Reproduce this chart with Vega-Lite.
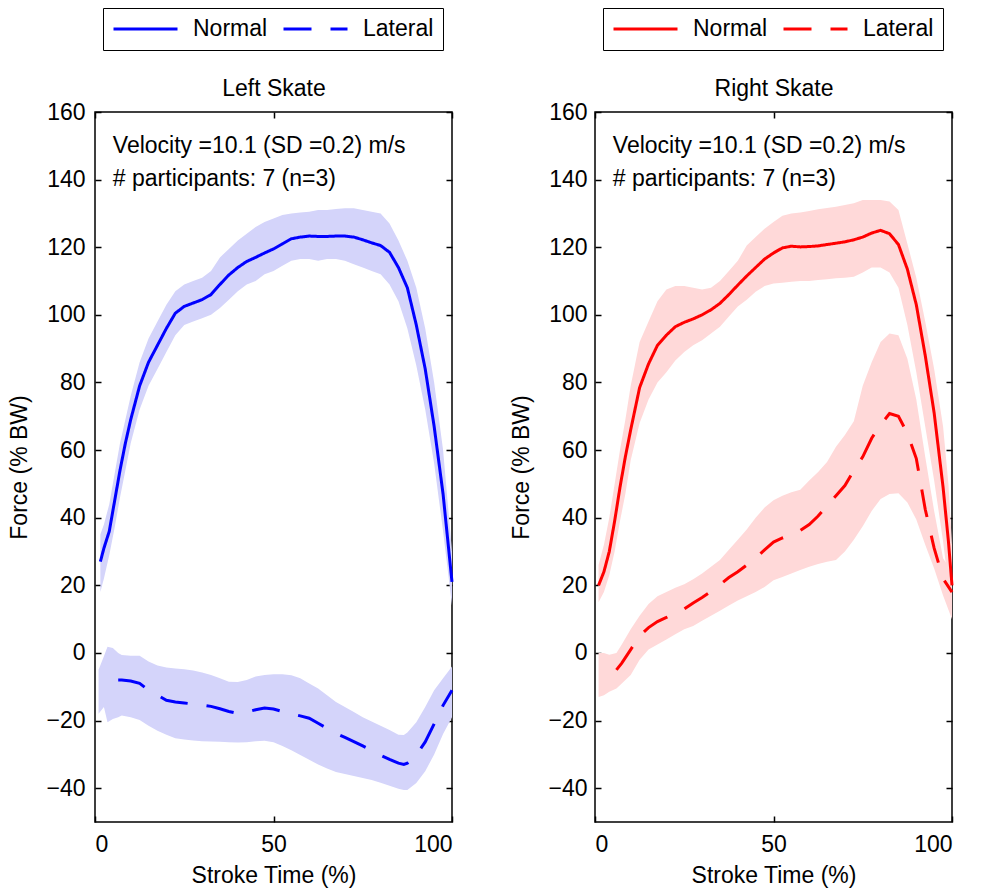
{
  "$schema": "https://vega.github.io/schema/vega-lite/v6.json",
  "background": "white",
  "padding": {"left": 8, "top": 6, "right": 5, "bottom": 5},
  "spacing": 51,
  "config": {
    "font": "Liberation Sans",
    "view": {"stroke": "#000", "strokeWidth": 1.5},
    "axis": {"labelFontSize": 23, "titleFontSize": 23, "labelColor": "#000", "titleColor": "#000", "titleFontWeight": "normal", "grid": false, "domain": false, "tickColor": "#000", "tickSize": -6, "tickWidth": 1.5, "labelPadding": 16, "titlePadding": 14, "labelFont": "Liberation Sans", "titleFont": "Liberation Sans"}
  },
  "datasets": {
    "left": [
      {"x": 1.5, "series": "Normal", "mean": 27, "lo": 18, "hi": 35},
      {"x": 2.5, "series": "Normal", "mean": 31, "lo": 22, "hi": 38},
      {"x": 4, "series": "Normal", "mean": 36, "lo": 29, "hi": 44},
      {"x": 5.5, "series": "Normal", "mean": 45, "lo": 37, "hi": 53},
      {"x": 7, "series": "Normal", "mean": 54, "lo": 46, "hi": 62},
      {"x": 8.5, "series": "Normal", "mean": 62, "lo": 54, "hi": 69},
      {"x": 10, "series": "Normal", "mean": 69, "lo": 62, "hi": 76},
      {"x": 12.5, "series": "Normal", "mean": 79, "lo": 72, "hi": 86},
      {"x": 15, "series": "Normal", "mean": 86, "lo": 79, "hi": 93},
      {"x": 17.5, "series": "Normal", "mean": 91, "lo": 84, "hi": 98},
      {"x": 20, "series": "Normal", "mean": 96, "lo": 89, "hi": 103},
      {"x": 22.5, "series": "Normal", "mean": 100.5, "lo": 94, "hi": 107},
      {"x": 25, "series": "Normal", "mean": 102.5, "lo": 97, "hi": 109},
      {"x": 27.5, "series": "Normal", "mean": 103.5, "lo": 98, "hi": 110},
      {"x": 30, "series": "Normal", "mean": 104.5, "lo": 99, "hi": 111},
      {"x": 32.5, "series": "Normal", "mean": 106, "lo": 100, "hi": 113},
      {"x": 35, "series": "Normal", "mean": 109, "lo": 102, "hi": 117},
      {"x": 37.5, "series": "Normal", "mean": 111.8, "lo": 104.5, "hi": 119.5},
      {"x": 40, "series": "Normal", "mean": 114, "lo": 107, "hi": 122},
      {"x": 42.5, "series": "Normal", "mean": 115.8, "lo": 109, "hi": 124},
      {"x": 45, "series": "Normal", "mean": 117, "lo": 110, "hi": 126},
      {"x": 47.5, "series": "Normal", "mean": 118.3, "lo": 112, "hi": 127.5},
      {"x": 50, "series": "Normal", "mean": 119.5, "lo": 113, "hi": 128.5},
      {"x": 52.5, "series": "Normal", "mean": 121, "lo": 114.5, "hi": 129.5},
      {"x": 55, "series": "Normal", "mean": 122.5, "lo": 116, "hi": 130},
      {"x": 57.5, "series": "Normal", "mean": 123, "lo": 116.5, "hi": 130.3},
      {"x": 60, "series": "Normal", "mean": 123.3, "lo": 116.5, "hi": 130.5},
      {"x": 62.5, "series": "Normal", "mean": 123.2, "lo": 116, "hi": 131},
      {"x": 65, "series": "Normal", "mean": 123.2, "lo": 116.5, "hi": 131},
      {"x": 67.5, "series": "Normal", "mean": 123.3, "lo": 116.5, "hi": 131.3},
      {"x": 70, "series": "Normal", "mean": 123.3, "lo": 116, "hi": 131.5},
      {"x": 72.5, "series": "Normal", "mean": 123, "lo": 115, "hi": 131.5},
      {"x": 75, "series": "Normal", "mean": 122.2, "lo": 114, "hi": 131},
      {"x": 77.5, "series": "Normal", "mean": 121.3, "lo": 113, "hi": 130.5},
      {"x": 80, "series": "Normal", "mean": 120.5, "lo": 112, "hi": 130},
      {"x": 82.5, "series": "Normal", "mean": 118.5, "lo": 109, "hi": 127},
      {"x": 85, "series": "Normal", "mean": 114, "lo": 104, "hi": 122},
      {"x": 87.5, "series": "Normal", "mean": 108, "lo": 96, "hi": 116},
      {"x": 90, "series": "Normal", "mean": 97, "lo": 85, "hi": 108},
      {"x": 92.5, "series": "Normal", "mean": 84, "lo": 72, "hi": 96},
      {"x": 95, "series": "Normal", "mean": 67, "lo": 56, "hi": 80},
      {"x": 97.5, "series": "Normal", "mean": 47, "lo": 36, "hi": 60},
      {"x": 100, "series": "Normal", "mean": 21, "lo": 14, "hi": 30},
      {"x": 1, "series": "Lateral", "mean": null, "lo": -18, "hi": -5},
      {"x": 2.5, "series": "Lateral", "mean": null, "lo": -16, "hi": -1},
      {"x": 3.5, "series": "Lateral", "mean": null, "lo": -20.5, "hi": 1.8},
      {"x": 5, "series": "Lateral", "mean": null, "lo": -19.5, "hi": 1.5},
      {"x": 6.5, "series": "Lateral", "mean": -8, "lo": -19, "hi": 0},
      {"x": 7.5, "series": "Lateral", "mean": -8, "lo": -18.5, "hi": -0.6},
      {"x": 10, "series": "Lateral", "mean": -8.3, "lo": -19, "hi": -0.8},
      {"x": 12.5, "series": "Lateral", "mean": -9, "lo": -19.8, "hi": -0.8},
      {"x": 15, "series": "Lateral", "mean": -11, "lo": -21.5, "hi": -2.5},
      {"x": 17.5, "series": "Lateral", "mean": -12.5, "lo": -23, "hi": -3.7},
      {"x": 20, "series": "Lateral", "mean": -14, "lo": -24.2, "hi": -4.3},
      {"x": 22.5, "series": "Lateral", "mean": -14.5, "lo": -25.2, "hi": -4.6},
      {"x": 25, "series": "Lateral", "mean": -14.8, "lo": -25.6, "hi": -4.8},
      {"x": 27.5, "series": "Lateral", "mean": -15.1, "lo": -25.9, "hi": -5.2},
      {"x": 30, "series": "Lateral", "mean": -15.4, "lo": -26.1, "hi": -5.8},
      {"x": 32.5, "series": "Lateral", "mean": -15.8, "lo": -26.2, "hi": -6.5},
      {"x": 35, "series": "Lateral", "mean": -16.5, "lo": -26.3, "hi": -7.5},
      {"x": 37.5, "series": "Lateral", "mean": -17.3, "lo": -26.4, "hi": -8.5},
      {"x": 40, "series": "Lateral", "mean": -17.9, "lo": -26.5, "hi": -8.6},
      {"x": 42.5, "series": "Lateral", "mean": -17.5, "lo": -26.4, "hi": -8},
      {"x": 45, "series": "Lateral", "mean": -16.8, "lo": -26.1, "hi": -7},
      {"x": 47.5, "series": "Lateral", "mean": -16.3, "lo": -26, "hi": -6.5},
      {"x": 50, "series": "Lateral", "mean": -16.6, "lo": -26.4, "hi": -6.3},
      {"x": 52.5, "series": "Lateral", "mean": -17.3, "lo": -27.5, "hi": -6.3},
      {"x": 55, "series": "Lateral", "mean": -18, "lo": -28.8, "hi": -6.6},
      {"x": 57.5, "series": "Lateral", "mean": -18.6, "lo": -30.2, "hi": -7.5},
      {"x": 60, "series": "Lateral", "mean": -19.3, "lo": -31.6, "hi": -9},
      {"x": 62.5, "series": "Lateral", "mean": -20.8, "lo": -33, "hi": -10.5},
      {"x": 65, "series": "Lateral", "mean": -22.3, "lo": -34.2, "hi": -12.5},
      {"x": 67.5, "series": "Lateral", "mean": -23.8, "lo": -35.2, "hi": -14.5},
      {"x": 70, "series": "Lateral", "mean": -25, "lo": -35.8, "hi": -16},
      {"x": 72.5, "series": "Lateral", "mean": -26.2, "lo": -36.4, "hi": -17.5},
      {"x": 75, "series": "Lateral", "mean": -27.5, "lo": -37, "hi": -19},
      {"x": 77.5, "series": "Lateral", "mean": -28.8, "lo": -37.6, "hi": -20.3},
      {"x": 80, "series": "Lateral", "mean": -30.3, "lo": -38.4, "hi": -21.5},
      {"x": 82.5, "series": "Lateral", "mean": -31.5, "lo": -39.3, "hi": -22.8},
      {"x": 85, "series": "Lateral", "mean": -32.6, "lo": -40.2, "hi": -24.2},
      {"x": 86.5, "series": "Lateral", "mean": -33, "lo": -40.5, "hi": -24.3},
      {"x": 87.5, "series": "Lateral", "mean": -32.6, "lo": -40.5, "hi": -23.5},
      {"x": 90, "series": "Lateral", "mean": -30.2, "lo": -38.5, "hi": -20.5},
      {"x": 92.5, "series": "Lateral", "mean": -26.3, "lo": -35, "hi": -16},
      {"x": 95, "series": "Lateral", "mean": -21, "lo": -30, "hi": -11},
      {"x": 97.5, "series": "Lateral", "mean": -15.5, "lo": -24, "hi": -7.5},
      {"x": 100, "series": "Lateral", "mean": -11, "lo": -19, "hi": -4}
    ],
    "right": [
      {"x": 1, "series": "Normal", "mean": 20, "lo": 15, "hi": 26},
      {"x": 2.5, "series": "Normal", "mean": 24, "lo": 18, "hi": 32},
      {"x": 4, "series": "Normal", "mean": 30, "lo": 23, "hi": 40},
      {"x": 5.5, "series": "Normal", "mean": 39, "lo": 30, "hi": 50},
      {"x": 7, "series": "Normal", "mean": 49, "lo": 39, "hi": 60},
      {"x": 8.5, "series": "Normal", "mean": 58, "lo": 47, "hi": 69},
      {"x": 10, "series": "Normal", "mean": 66, "lo": 57, "hi": 79},
      {"x": 12.5, "series": "Normal", "mean": 78.5, "lo": 68, "hi": 92},
      {"x": 15, "series": "Normal", "mean": 85.5, "lo": 75, "hi": 98},
      {"x": 17.5, "series": "Normal", "mean": 91, "lo": 80, "hi": 104},
      {"x": 20, "series": "Normal", "mean": 94, "lo": 83, "hi": 107.5},
      {"x": 22.5, "series": "Normal", "mean": 96.5, "lo": 86.5, "hi": 108.5},
      {"x": 25, "series": "Normal", "mean": 97.8, "lo": 89, "hi": 108.5},
      {"x": 27.5, "series": "Normal", "mean": 98.8, "lo": 91, "hi": 108},
      {"x": 30, "series": "Normal", "mean": 100, "lo": 92.5, "hi": 107.5},
      {"x": 32.5, "series": "Normal", "mean": 101.5, "lo": 94.5, "hi": 108},
      {"x": 35, "series": "Normal", "mean": 103.4, "lo": 96.5, "hi": 110},
      {"x": 37.5, "series": "Normal", "mean": 106, "lo": 99.5, "hi": 113},
      {"x": 40, "series": "Normal", "mean": 108.8, "lo": 102.5, "hi": 116},
      {"x": 42.5, "series": "Normal", "mean": 111.5, "lo": 104.5, "hi": 120.5},
      {"x": 45, "series": "Normal", "mean": 114, "lo": 106.8, "hi": 123},
      {"x": 47.5, "series": "Normal", "mean": 116.5, "lo": 108.5, "hi": 125.5},
      {"x": 50, "series": "Normal", "mean": 118.3, "lo": 109.3, "hi": 127.5},
      {"x": 52.5, "series": "Normal", "mean": 119.8, "lo": 109.5, "hi": 129.3},
      {"x": 55, "series": "Normal", "mean": 120.3, "lo": 109.8, "hi": 130},
      {"x": 57.5, "series": "Normal", "mean": 120.1, "lo": 110, "hi": 130.3},
      {"x": 60, "series": "Normal", "mean": 120.2, "lo": 110, "hi": 130.7},
      {"x": 62.5, "series": "Normal", "mean": 120.4, "lo": 110.3, "hi": 131.2},
      {"x": 65, "series": "Normal", "mean": 120.8, "lo": 110.5, "hi": 131.6},
      {"x": 67.5, "series": "Normal", "mean": 121.2, "lo": 110.8, "hi": 132},
      {"x": 70, "series": "Normal", "mean": 121.6, "lo": 111, "hi": 132.5},
      {"x": 72.5, "series": "Normal", "mean": 122.2, "lo": 111.3, "hi": 133},
      {"x": 75, "series": "Normal", "mean": 123, "lo": 112.5, "hi": 134},
      {"x": 77.5, "series": "Normal", "mean": 124.2, "lo": 114, "hi": 134},
      {"x": 80, "series": "Normal", "mean": 125, "lo": 114, "hi": 134},
      {"x": 82.5, "series": "Normal", "mean": 124, "lo": 112.5, "hi": 133.5},
      {"x": 85, "series": "Normal", "mean": 120.8, "lo": 108, "hi": 131},
      {"x": 87.5, "series": "Normal", "mean": 113.5, "lo": 97, "hi": 121},
      {"x": 90, "series": "Normal", "mean": 103, "lo": 83, "hi": 111},
      {"x": 92.5, "series": "Normal", "mean": 88, "lo": 67, "hi": 98},
      {"x": 95, "series": "Normal", "mean": 71, "lo": 51, "hi": 84},
      {"x": 97.5, "series": "Normal", "mean": 49, "lo": 33, "hi": 67},
      {"x": 99, "series": "Normal", "mean": 33, "lo": 20, "hi": 50},
      {"x": 100, "series": "Normal", "mean": 20, "lo": 11, "hi": 32},
      {"x": 1, "series": "Lateral", "mean": null, "lo": -13, "hi": 0},
      {"x": 2.5, "series": "Lateral", "mean": null, "lo": -12.5, "hi": 0},
      {"x": 4, "series": "Lateral", "mean": null, "lo": -11.5, "hi": -0.5},
      {"x": 6, "series": "Lateral", "mean": -5, "lo": -10.5, "hi": 0},
      {"x": 7.5, "series": "Lateral", "mean": -3, "lo": -9, "hi": 2.5},
      {"x": 10, "series": "Lateral", "mean": 1, "lo": -6.5, "hi": 7},
      {"x": 12.5, "series": "Lateral", "mean": 5, "lo": -2, "hi": 11},
      {"x": 15, "series": "Lateral", "mean": 7.5, "lo": 1, "hi": 14.5},
      {"x": 17.5, "series": "Lateral", "mean": 9.3, "lo": 2.5, "hi": 16.8},
      {"x": 20, "series": "Lateral", "mean": 10.5, "lo": 4, "hi": 18},
      {"x": 22.5, "series": "Lateral", "mean": 11.8, "lo": 5.5, "hi": 19.3},
      {"x": 25, "series": "Lateral", "mean": 13, "lo": 7, "hi": 20.3},
      {"x": 27.5, "series": "Lateral", "mean": 14.8, "lo": 8, "hi": 21.8},
      {"x": 30, "series": "Lateral", "mean": 16.4, "lo": 9.5, "hi": 23.5},
      {"x": 32.5, "series": "Lateral", "mean": 18.2, "lo": 11, "hi": 25.5},
      {"x": 35, "series": "Lateral", "mean": 20.2, "lo": 12.5, "hi": 27.5},
      {"x": 37.5, "series": "Lateral", "mean": 22.3, "lo": 14, "hi": 30.5},
      {"x": 40, "series": "Lateral", "mean": 24, "lo": 15.5, "hi": 33.5},
      {"x": 42.5, "series": "Lateral", "mean": 26, "lo": 16.8, "hi": 36.5},
      {"x": 45, "series": "Lateral", "mean": 28, "lo": 18, "hi": 40},
      {"x": 47.5, "series": "Lateral", "mean": 30.5, "lo": 19.5, "hi": 43},
      {"x": 50, "series": "Lateral", "mean": 32.8, "lo": 21.5, "hi": 45.2},
      {"x": 52.5, "series": "Lateral", "mean": 34, "lo": 22.5, "hi": 46.5},
      {"x": 55, "series": "Lateral", "mean": 35, "lo": 23.5, "hi": 47.5},
      {"x": 57.5, "series": "Lateral", "mean": 36.2, "lo": 24.5, "hi": 48.3},
      {"x": 60, "series": "Lateral", "mean": 38, "lo": 25.5, "hi": 51},
      {"x": 62.5, "series": "Lateral", "mean": 40.5, "lo": 26.3, "hi": 53.5},
      {"x": 65, "series": "Lateral", "mean": 43.5, "lo": 27, "hi": 56.5},
      {"x": 67.5, "series": "Lateral", "mean": 46.5, "lo": 27.5, "hi": 61},
      {"x": 70, "series": "Lateral", "mean": 49.5, "lo": 30, "hi": 64.5},
      {"x": 72.5, "series": "Lateral", "mean": 54, "lo": 33.5, "hi": 68.5},
      {"x": 75, "series": "Lateral", "mean": 58, "lo": 37.5, "hi": 79},
      {"x": 77.5, "series": "Lateral", "mean": 63.5, "lo": 42, "hi": 86},
      {"x": 80, "series": "Lateral", "mean": 67.5, "lo": 45.5, "hi": 92},
      {"x": 82.5, "series": "Lateral", "mean": 70.8, "lo": 47, "hi": 94.5},
      {"x": 85, "series": "Lateral", "mean": 70, "lo": 47.2, "hi": 94},
      {"x": 87.5, "series": "Lateral", "mean": 65, "lo": 44.5, "hi": 87},
      {"x": 90, "series": "Lateral", "mean": 57.5, "lo": 39.5, "hi": 75},
      {"x": 92.5, "series": "Lateral", "mean": 42.5, "lo": 32, "hi": 58},
      {"x": 95, "series": "Lateral", "mean": 31, "lo": 25, "hi": 42},
      {"x": 97.5, "series": "Lateral", "mean": 22, "lo": 17, "hi": 28},
      {"x": 100, "series": "Lateral", "mean": 18, "lo": 10, "hi": 24}
    ],
    "notes": [
      {"x": 5, "y": 148, "label": "Velocity =10.1 (SD =0.2) m/s"},
      {"x": 5, "y": 138, "label": "# participants: 7 (n=3)"}
    ]
  },
  "hconcat": [
    {
      "width": 357,
      "height": 710,
      "data": {"name": "left"},
      "resolve": {"axis": {"x": "independent", "y": "independent"}},
      "layer": [
        {
          "mark": {"type": "area", "color": "#d4d4fa", "opacity": 1},
          "encoding": {
            "x": {"field": "x", "type": "quantitative", "scale": {"domain": [0, 100], "nice": false, "zero": false}, "axis": {"orient": "bottom", "values": [0, 50, 100], "title": "Stroke Time (%)", "labelPadding": 17, "titlePadding": 8}},
            "y": {"field": "lo", "type": "quantitative", "scale": {"domain": [-50, 160], "nice": false, "zero": false}, "axis": {"orient": "left", "values": [-40, -20, 0, 20, 40, 60, 80, 100, 120, 140, 160], "title": "Force (% BW)"}},
            "y2": {"field": "hi"},
            "detail": {"field": "series"}
          }
        },
        {
          "mark": {"type": "line", "color": "#0000ff", "strokeWidth": 3},
          "encoding": {
            "x": {"field": "x", "type": "quantitative", "axis": {"orient": "top", "values": [0, 50, 100], "labels": false, "title": "Left Skate", "titlePadding": 11}},
            "y": {"field": "mean", "type": "quantitative", "axis": {"orient": "right", "values": [-40, -20, 0, 20, 40, 60, 80, 100, 120, 140, 160], "labels": false, "title": null}},
            "strokeDash": {
              "field": "series", "type": "nominal",
              "scale": {"domain": ["Normal", "Lateral"], "range": [[1, 0], [28, 19]]},
              "legend": {"orient": "none", "legendX": 8, "legendY": -104, "direction": "horizontal", "title": null, "strokeColor": "#000", "fillColor": "#fff", "padding": 9, "clipHeight": 24, "symbolType": "stroke", "symbolSize": 4096, "symbolStrokeWidth": 3, "symbolStrokeColor": "#0000ff", "labelFontSize": 23, "labelColor": "#000", "labelOffset": 14, "columnPadding": 14, "labelFont": "Liberation Sans"}
            }
          }
        },
        {
          "data": {"name": "notes"},
          "mark": {"type": "text", "align": "left", "baseline": "alphabetic", "fontSize": 23, "color": "#000", "font": "Liberation Sans"},
          "encoding": {
            "x": {"field": "x", "type": "quantitative", "axis": null},
            "y": {"field": "y", "type": "quantitative", "axis": null},
            "text": {"field": "label"}
          }
        }
      ]
    },
    {
      "width": 357,
      "height": 710,
      "data": {"name": "right"},
      "resolve": {"axis": {"x": "independent", "y": "independent"}},
      "layer": [
        {
          "mark": {"type": "area", "color": "#ffd9d9", "opacity": 1},
          "encoding": {
            "x": {"field": "x", "type": "quantitative", "scale": {"domain": [0, 100], "nice": false, "zero": false}, "axis": {"orient": "bottom", "values": [0, 50, 100], "title": "Stroke Time (%)", "labelPadding": 17, "titlePadding": 8}},
            "y": {"field": "lo", "type": "quantitative", "scale": {"domain": [-50, 160], "nice": false, "zero": false}, "axis": {"orient": "left", "values": [-40, -20, 0, 20, 40, 60, 80, 100, 120, 140, 160], "title": "Force (% BW)", "labelPadding": 14}},
            "y2": {"field": "hi"},
            "detail": {"field": "series"}
          }
        },
        {
          "mark": {"type": "line", "color": "#ff0000", "strokeWidth": 3},
          "encoding": {
            "x": {"field": "x", "type": "quantitative", "axis": {"orient": "top", "values": [0, 50, 100], "labels": false, "title": "Right Skate", "titlePadding": 11}},
            "y": {"field": "mean", "type": "quantitative", "axis": {"orient": "right", "values": [-40, -20, 0, 20, 40, 60, 80, 100, 120, 140, 160], "labels": false, "title": null}},
            "strokeDash": {
              "field": "series", "type": "nominal",
              "scale": {"domain": ["Normal", "Lateral"], "range": [[1, 0], [28, 19]]},
              "legend": {"orient": "none", "legendX": 8, "legendY": -104, "direction": "horizontal", "title": null, "strokeColor": "#000", "fillColor": "#fff", "padding": 9, "clipHeight": 24, "symbolType": "stroke", "symbolSize": 4096, "symbolStrokeWidth": 3, "symbolStrokeColor": "#ff0000", "labelFontSize": 23, "labelColor": "#000", "labelOffset": 14, "columnPadding": 14, "labelFont": "Liberation Sans"}
            }
          }
        },
        {
          "data": {"name": "notes"},
          "mark": {"type": "text", "align": "left", "baseline": "alphabetic", "fontSize": 23, "color": "#000", "font": "Liberation Sans"},
          "encoding": {
            "x": {"field": "x", "type": "quantitative", "axis": null},
            "y": {"field": "y", "type": "quantitative", "axis": null},
            "text": {"field": "label"}
          }
        }
      ]
    }
  ],
  "resolve": {"scale": {"strokeDash": "independent"}, "legend": {"strokeDash": "independent"}}
}
